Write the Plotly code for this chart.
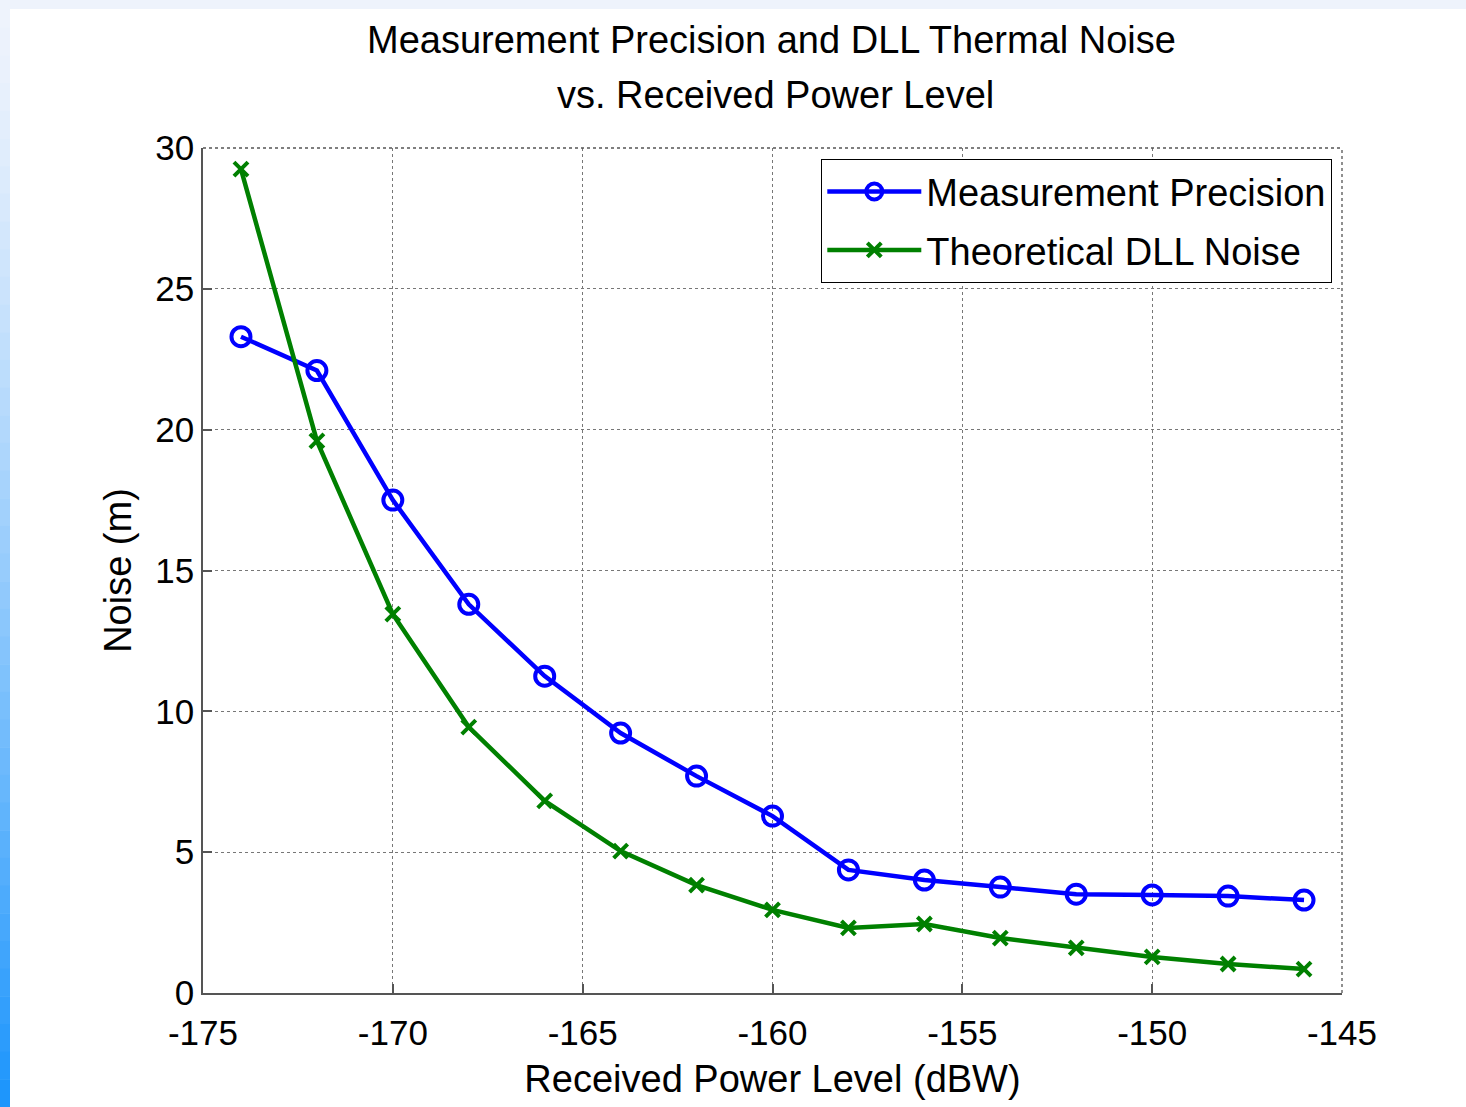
import plotly.graph_objects as go

power_dbw = [-174, -172, -170, -168, -166, -164, -162, -160, -158, -156, -154, -152, -150, -148, -146]
measurement_precision = [23.3, 22.1, 17.5, 13.8, 11.25, 9.23, 7.70, 6.28, 4.37, 4.01, 3.76, 3.51, 3.48, 3.44, 3.30]
theoretical_dll = [29.25, 19.6, 13.45, 9.44, 6.82, 5.04, 3.83, 2.95, 2.31, 2.45, 1.95, 1.60, 1.28, 1.03, 0.85]

x_ticks = [-175, -170, -165, -160, -155, -150, -145]
y_ticks = [0, 5, 10, 15, 20, 25, 30]

title_lines = ["Measurement Precision and DLL Thermal Noise", "vs. Received Power Level"]

FONT = "Liberation Sans, Arial, Helvetica, sans-serif"
FS = 38

fig = go.Figure()
fig.add_trace(go.Scatter(
    x=power_dbw, y=measurement_precision, mode="lines+markers",
    name="Measurement Precision", legendgroup="a",
    line=dict(color="#0000ff", width=4.5),
    marker=dict(symbol="circle-open", size=19, color="#0000ff", line=dict(width=4)),
))
fig.add_trace(go.Scatter(
    x=power_dbw, y=theoretical_dll, mode="lines+markers",
    name="Theoretical DLL Noise", legendgroup="b",
    line=dict(color="#008000", width=4.5),
    marker=dict(symbol="x-thin-open", size=14, color="#008000", line=dict(width=4, color="#008000")),
))

W, H = 1466, 1107
L, R, T, B = 203, 124, 148, 114
pw, ph = W - L - R, H - T - B

def px2paper_x(px):
    return (px - L) / pw

def px2paper_y(py):
    return (H - B - py) / ph

shapes = []
shapes.append(dict(type="rect", xref="paper", yref="paper",
                   x0=px2paper_x(0), x1=px2paper_x(W), y0=px2paper_y(9), y1=px2paper_y(0),
                   fillcolor="#eef3fc", line=dict(width=0), layer="below"))
n = 40
c_top = (0xee, 0xf3, 0xfc)
c_bot = (0x1e, 0x96, 0xfc)
for i in range(n):
    t = i / (n - 1)
    t2 = t ** 1.3
    c = tuple(int(round(a + (b - a) * t2)) for a, b in zip(c_top, c_bot))
    y0 = H * i / n
    y1 = H * (i + 1) / n
    shapes.append(dict(type="rect", xref="paper", yref="paper",
                       x0=px2paper_x(0), x1=px2paper_x(10),
                       y0=px2paper_y(y1 + 0.5), y1=px2paper_y(y0),
                       fillcolor="rgb(%d,%d,%d)" % c, line=dict(width=0), layer="below"))
shapes.append(dict(type="line", xref="paper", yref="paper", x0=0, x1=1, y0=1, y1=1,
                   line=dict(color="#555555", width=1.3, dash="dot")))
shapes.append(dict(type="line", xref="paper", yref="paper", x0=1, x1=1, y0=0, y1=1,
                   line=dict(color="#555555", width=1.3, dash="dot")))

annotations = [
    dict(text=title_lines[0], xref="paper", yref="paper", x=px2paper_x(771), y=px2paper_y(40),
         xanchor="center", yanchor="middle", showarrow=False, font=dict(size=FS, family=FONT)),
    dict(text=title_lines[1], xref="paper", yref="paper", x=px2paper_x(775), y=px2paper_y(95),
         xanchor="center", yanchor="middle", showarrow=False, font=dict(size=FS, family=FONT)),
]

fig.update_layout(
    width=W, height=H,
    margin=dict(l=L, r=R, t=T, b=B),
    paper_bgcolor="white", plot_bgcolor="white",
    font=dict(family=FONT, size=FS, color="black"),
    showlegend=True,
    legend=dict(x=px2paper_x(1332), xanchor="right", y=px2paper_y(159), yanchor="top",
                bgcolor="white", bordercolor="black", borderwidth=1.3,
                font=dict(size=FS, family=FONT), itemwidth=94,
                traceorder="grouped", tracegroupgap=6),
    shapes=shapes,
    annotations=annotations,
)
fig.update_xaxes(
    range=[-175, -145], tickvals=x_ticks, ticktext=[str(v) for v in x_ticks],
    showline=True, linecolor="#555555", linewidth=1.5, mirror=False,
    ticks="inside", ticklen=9, tickcolor="#555555", tickwidth=1.5,
    showgrid=True, gridcolor="#777777", griddash="dot", gridwidth=1.3,
    zeroline=False, tickfont=dict(size=35), ticklabelstandoff=8,
    title=dict(text="Received Power Level (dBW)", font=dict(size=FS), standoff=15),
)
fig.update_yaxes(
    range=[0, 30], tickvals=y_ticks, ticktext=[str(v) for v in y_ticks],
    showline=True, linecolor="#555555", linewidth=1.5, mirror=False,
    ticks="inside", ticklen=9, tickcolor="#555555", tickwidth=1.5,
    showgrid=True, gridcolor="#777777", griddash="dot", gridwidth=1.3,
    zeroline=False, tickfont=dict(size=35),
    title=dict(text="Noise (m)", font=dict(size=FS), standoff=12),
)

fig.write_html("out.html", config={"displayModeBar": False},
               post_script="document.body.style.margin='0px';document.body.style.padding='0px';")
